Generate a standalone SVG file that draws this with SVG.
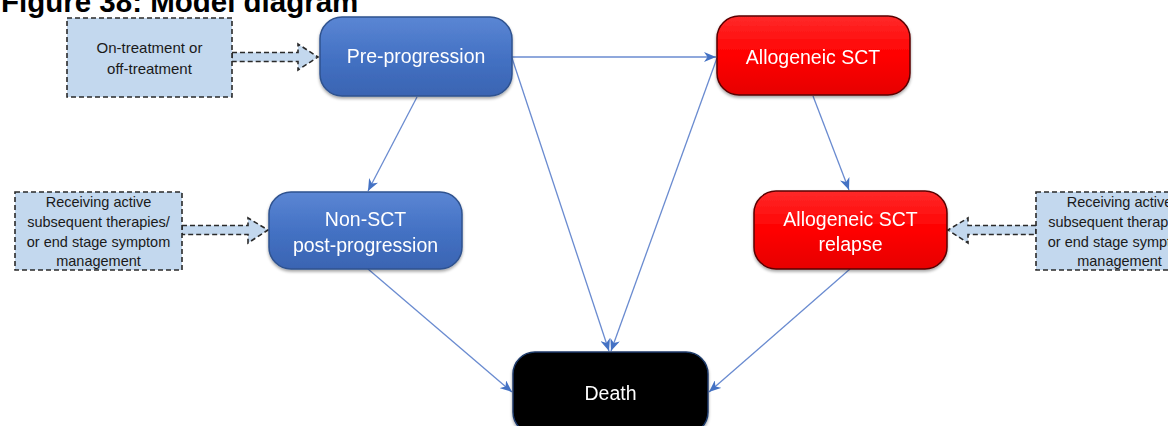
<svg xmlns="http://www.w3.org/2000/svg" width="1168" height="426" viewBox="0 0 1168 426">
<style>
.title{font-family:"Liberation Sans",Arial,sans-serif;font-weight:bold;font-size:29.5px;fill:#000}
.nt{font-family:"Liberation Sans",Arial,sans-serif;font-size:19.5px;fill:#fff;text-anchor:middle}
.bt{font-family:"Liberation Sans",Arial,sans-serif;font-size:14.5px;fill:#1a1a1a;text-anchor:middle}
.blue{fill:url(#gBlue);stroke:#2f528f;stroke-width:1.5}
.red{fill:url(#gRed);stroke:#5a0000;stroke-width:1.5}
.black{fill:#000;stroke:#1f3a6a;stroke-width:1.5}
.dbox{fill:#c3d8ee;stroke:#2a2a2a;stroke-width:1.6;stroke-dasharray:5 3}
.darr{fill:#c3d8ee;stroke:#2a2a2a;stroke-width:1.6;stroke-dasharray:5 3}
.con{fill:none;stroke:#6a8bd0;stroke-width:1.3;marker-end:url(#ah)}
</style>
<defs>
<linearGradient id="gBlue" x1="0" y1="0" x2="0" y2="1">
<stop offset="0" stop-color="#5b86d4"/>
<stop offset="0.5" stop-color="#4472c4"/>
<stop offset="1" stop-color="#3a64b2"/>
</linearGradient>
<linearGradient id="gRed" x1="0" y1="0" x2="0" y2="1">
<stop offset="0" stop-color="#ff2a2a"/>
<stop offset="0.5" stop-color="#ff0000"/>
<stop offset="1" stop-color="#e60000"/>
</linearGradient>
<filter id="sh" x="-10%" y="-10%" width="120%" height="130%">
<feDropShadow dx="0" dy="2" stdDeviation="1.5" flood-color="#000" flood-opacity="0.35"/>
</filter>
<marker id="ah" viewBox="0 0 12 10" refX="12" refY="5" markerWidth="12" markerHeight="10" markerUnits="userSpaceOnUse" orient="auto">
<path d="M0,0 L12,5 L0,10 L3.5,5 z" fill="#4472c4"/>
</marker>
</defs>
<rect width="1168" height="426" fill="#fff"/>
<text class="title" x="1" y="12">Figure 38: Model diagram</text>

<g id="connectors">
<line class="con" x1="512" y1="57" x2="716" y2="57"/>
<line class="con" x1="417" y1="97" x2="368" y2="191"/>
<line class="con" x1="512" y1="58" x2="609" y2="351"/>
<line class="con" x1="717" y1="58" x2="611" y2="351"/>
<line class="con" x1="813" y1="96" x2="849" y2="190"/>
<line class="con" x1="368" y1="269" x2="512" y2="392"/>
<line class="con" x1="850" y1="269" x2="709" y2="392"/>
<path class="darr" d="M232,52.5 L298,52.5 L298,44 L318,57 L298,70 L298,61.5 L232,61.5 Z"/>
<path class="darr" d="M182,225.5 L248,225.5 L248,218 L268,230 L248,243 L248,234.5 L182,234.5 Z"/>
<path class="darr" d="M1036,225.5 L968,225.5 L968,218 L948,230 L968,243 L968,234.5 L1036,234.5 Z"/>
</g>

<g id="on-treatment">
<rect class="dbox" x="67" y="18" width="165" height="79"/>
<text class="bt" x="149.5" y="53" style="font-size:15px">On-treatment or</text>
<text class="bt" x="149.5" y="74" style="font-size:15px">off-treatment</text>
</g>

<g id="pre-progression" filter="url(#sh)">
<rect class="blue" x="320" y="17" width="192" height="79" rx="22"/>
<text class="nt" x="416" y="63">Pre-progression</text>
</g>

<g id="allogeneic-sct" filter="url(#sh)">
<rect class="red" x="717" y="16" width="193" height="79" rx="22"/>
<text class="nt" x="813" y="64">Allogeneic SCT</text>
</g>

<g id="left-therapies">
<rect class="dbox" x="15" y="192" width="167" height="78"/>
<text class="bt" x="98.5" y="207">Receiving active</text>
<text class="bt" x="98.5" y="227">subsequent therapies/</text>
<text class="bt" x="98.5" y="247">or end stage symptom</text>
<text class="bt" x="98.5" y="266">management</text>
</g>

<g id="non-sct" filter="url(#sh)">
<rect class="blue" x="269" y="192" width="193" height="77" rx="22"/>
<text class="nt" x="365.5" y="226">Non-SCT</text>
<text class="nt" x="365.5" y="252">post-progression</text>
</g>

<g id="sct-relapse" filter="url(#sh)">
<rect class="red" x="754" y="191" width="193" height="78" rx="22"/>
<text class="nt" x="850.5" y="226">Allogeneic SCT</text>
<text class="nt" x="850.5" y="251">relapse</text>
</g>

<g id="right-therapies">
<rect class="dbox" x="1036" y="192" width="167" height="78"/>
<text class="bt" x="1119.5" y="207">Receiving active</text>
<text class="bt" x="1119.5" y="227">subsequent therapies/</text>
<text class="bt" x="1119.5" y="247">or end stage symptom</text>
<text class="bt" x="1119.5" y="266">management</text>
</g>

<g id="death" filter="url(#sh)">
<rect class="black" x="513" y="352" width="195" height="82" rx="22"/>
<text class="nt" x="610.5" y="400">Death</text>
</g>
</svg>
